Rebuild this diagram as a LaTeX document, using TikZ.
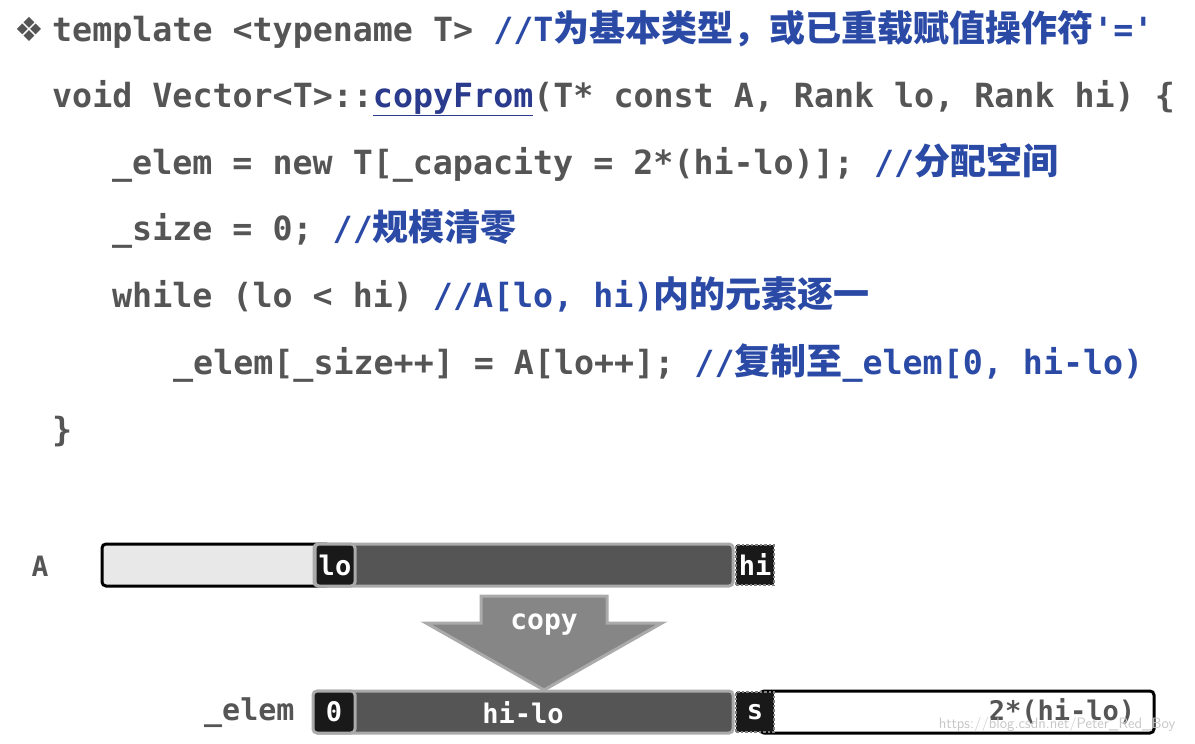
\documentclass[tikz,border=0pt]{standalone}
\usepackage{fontspec}
\setmonofont{DejaVu Sans Mono}
\newfontfamily\cjkf{Noto Sans CJK SC Bold}
\newcommand{\cjk}{\cjkf\fontsize{36}{40}\selectfont}
\newfontfamily\sym{DejaVu Sans}
\definecolor{code}{HTML}{555555}
\definecolor{cmt}{HTML}{2B4AA6}
\definecolor{lnk}{HTML}{2A3A8C}
\definecolor{dark}{HTML}{555555}
\definecolor{light}{HTML}{E8E8E8}
\definecolor{rim}{HTML}{AAAAAA}
\begin{document}
\begin{tikzpicture}[x=1pt,y=-1pt,
  ln/.style={anchor=base west,inner sep=0pt,font=\fontsize{33.3}{38}\ttfamily\bfseries,text=code},
  bt/.style={font=\fontsize{27}{30}\ttfamily\bfseries,text=white},
  cell/.style={rounded corners=4pt,line width=3pt}]
\useasboundingbox (0,0) rectangle (1195,744);
\newcommand{\cm}[1]{\textcolor{cmt}{#1}}
\node[ln,text=code] (b) at (14,41) {\sym ❖};
\node[ln] (l1) at (52,41) {template <typename T> \cm{//T{\cjk 为基本类型，或已重载赋值操作符}'='}};
\node[ln] (l2) at (52,107) {void Vector<T>::\textcolor{lnk}{\underline{copyFrom}}(T* const A, Rank lo, Rank hi) \{};
\node[ln] (l3) at (112,174) {\_elem = new T[\_capacity = 2*(hi-lo)]; \cm{//{\cjk 分配空间}}};
\node[ln] (l4) at (112,240) {\_size = 0; \cm{//{\cjk 规模清零}}};
\node[ln] (l5) at (112,307) {while (lo < hi) \cm{//A[lo, hi){\cjk 内的元素逐一}}};
\node[ln] (l6) at (173,374) {\_elem[\_size++] = A[lo++]; \cm{//{\cjk 复制至}\_elem[0, hi-lo)}};
\node[ln] (l7) at (52,441) {\}};
% A bar
\draw[cell,fill=light,draw=black] (102,544) rectangle (330,586);
\draw[cell,fill=dark,draw=rim] (314,544) rectangle (733,586);
\node[cell,fill=black!90,draw=rim,minimum width=40pt,minimum height=42pt,inner sep=0pt,bt] (lo) at (335,565) {lo};
\node[fill=black!90,draw=gray,dotted,line width=2.5pt,minimum width=38pt,minimum height=40pt,inner sep=0pt,bt] (hi) at (755,565) {hi};
\node[font=\fontsize{28}{30}\ttfamily\bfseries,text=code] (A) at (40,566) {A};
% copy arrow
\draw[fill=gray!95,draw=rim,line width=3pt,line join=miter] (481,596) -- (607,596) -- (607,623) -- (662,623) -- (544,690) -- (426,623) -- (481,623) -- cycle;
\node[font=\fontsize{28}{30}\ttfamily\bfseries,text=white] (cp) at (544,625) {copy};
% elem bar
\draw[cell,fill=white,draw=black] (760,691) rectangle (1154,733);
\draw[cell,fill=dark,draw=rim] (314,691) rectangle (733,733);
\node[cell,fill=black!90,draw=rim,minimum width=42pt,minimum height=42pt,inner sep=0pt,bt] (z) at (334,712) {0};
\node[fill=black!90,draw=gray,dotted,line width=2.5pt,minimum width=38pt,minimum height=40pt,inner sep=0pt,bt] (s) at (755,712) {s};
\node[bt] (hl) at (523,713) {hi-lo};
\node[font=\fontsize{27}{30}\ttfamily\bfseries,text=code] (dh) at (1062,711) {2*(hi-lo)};
\node[font=\fontsize{30}{32}\ttfamily\bfseries,text=code,anchor=east] (el) at (298,713) {\_elem};
\node[font=\fontsize{15}{17}\sffamily,text=black!22] (wm) at (1057,725) {https://blog.csdn.net/Peter\_Red\_Boy};
\end{tikzpicture}
\end{document}
